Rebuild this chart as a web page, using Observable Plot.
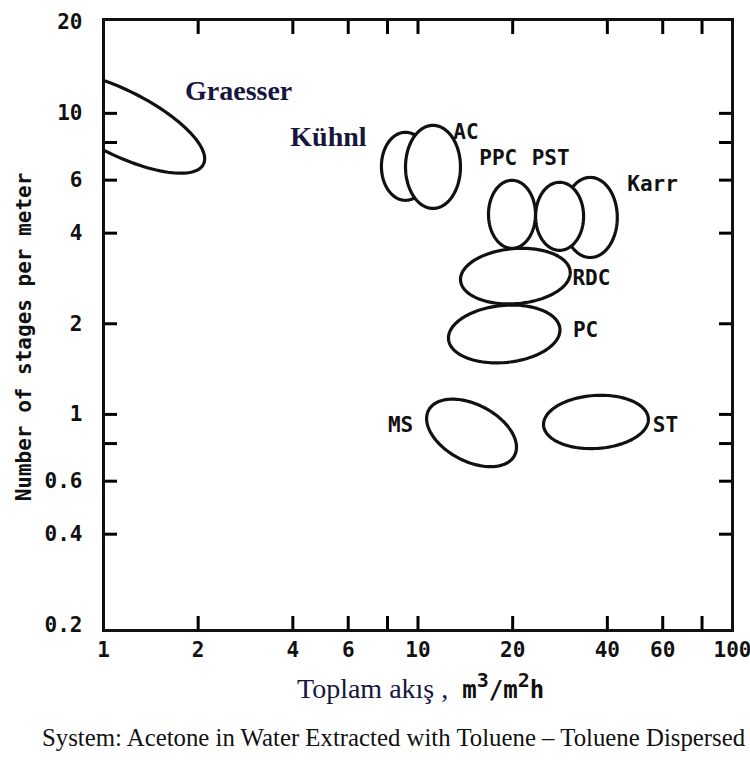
<!DOCTYPE html>
<html><head><meta charset="utf-8">
<script src="https://cdn.jsdelivr.net/npm/d3@7"></script>
<script src="https://cdn.jsdelivr.net/npm/@observablehq/plot@0.6"></script>
<style>
body{margin:0;background:#fff;}
#chart svg{display:block;}
#caption{margin-top:14px;padding-left:42px;font-family:"Liberation Serif","Times New Roman",serif;font-size:24.8px;line-height:28px;color:#111;white-space:nowrap;}
</style></head><body>
<div id="chart"></div>
<div id="caption"></div>
<script>
// ---- axis ticks ----
const xTicks = [2, 4, 6, 8, 10, 20, 40, 60, 80];
const xTickLabels = [1, 2, 4, 6, 10, 20, 40, 60, 100];
const yTicks = [0.4, 0.6, 0.8, 1, 2, 4, 6, 8, 10];
const yTickLabels = [0.2, 0.4, 0.6, 1, 2, 4, 6, 10, 20];

// ---- operating regions (ellipses in log-log space) ----
const names = ["Graesser", "Kühnl", "AC", "Karr", "PST", "PPC", "RDC", "PC", "MS", "ST"];
const centerFlow = [1.13, 9.12, 11.16, 35.3, 28.2, 19.9, 20.4, 18.8, 14.8, 36.8];
const centerStages = [9.33, 6.67, 6.64, 4.51, 4.55, 4.62, 2.88, 1.85, 0.868, 0.944];
const semiAxisA = [0.299, 0.0763, 0.0874, 0.0859, 0.0763, 0.0747, 0.175, 0.178, 0.156, 0.167]; // decades
const semiAxisB = [0.106, 0.113, 0.138, 0.133, 0.113, 0.113, 0.0914, 0.0947, 0.093, 0.088];   // decades
const tiltDeg = [28, 0, 0, 0, 0, 0, -5, -6, 30, -4];

// ---- labels ----
const labelNames = ["AC", "PPC", "PST", "Karr", "RDC", "PC", "MS", "ST"];
const labelFlow = [14.2, 18.0, 26.4, 55.7, 35.6, 34.1, 8.8, 61.2];
const labelStages = [8.65, 7.09, 7.09, 5.81, 2.83, 1.90, 0.919, 0.919];
const authorNames = ["Graesser", "Kühnl"];
const authorFlow = [2.69, 5.19];
const authorStages = [11.9, 8.32];

const yTitle = "Number of stages per meter";
const xTitle = "Toplam akış ,";
const captionText = "System: Acetone in Water Extracted with Toluene – Toluene Dispersed";

// outline points of each ellipse
const pts = [];
names.forEach((name, i) => {
  const lx = Math.log10(centerFlow[i]), ly = Math.log10(centerStages[i]);
  const a = semiAxisA[i], b = semiAxisB[i], th = tiltDeg[i] * Math.PI / 180;
  const n = 120;
  for (let k = 0; k <= n; k++) {
    const t = 2 * Math.PI * k / n;
    const u = a * Math.cos(t), v = b * Math.sin(t);
    const dx = u * Math.cos(th) - v * Math.sin(th);
    const dy = -(u * Math.sin(th) + v * Math.cos(th));
    pts.push({name, flow: Math.pow(10, lx + dx), stages: Math.pow(10, ly + dy)});
  }
});

const mono = "'DejaVu Sans Mono', 'Liberation Mono', monospace";
const serif = "'Liberation Serif', 'Times New Roman', serif";

const chart = Plot.plot({
  width: 750,
  height: 710,
  marginLeft: 103,
  marginRight: 18,
  marginTop: 19,
  marginBottom: 80,
  style: {background: "white", overflow: "visible"},
  x: {type: "log", domain: [1, 100]},
  y: {type: "log", domain: [0.1915, 20.5]},
  marks: [
    Plot.line(pts, {x: "flow", y: "stages", z: "name", stroke: "#111", strokeWidth: 3.2, fill: "white", clip: true}),
    Plot.axisX({anchor: "bottom", ticks: xTicks, tickSize: -14, fill: "none", strokeWidth: 3, label: null}),
    Plot.axisX({anchor: "top", ticks: xTicks, tickSize: -14, fill: "none", strokeWidth: 3, label: null}),
    Plot.axisY({anchor: "left", ticks: yTicks, tickSize: -14, fill: "none", strokeWidth: 3, label: null}),
    Plot.axisY({anchor: "right", ticks: yTicks, tickSize: -14, fill: "none", strokeWidth: 3, label: null}),
    Plot.text(xTickLabels, {x: d => d, text: d => String(d), frameAnchor: "bottom", lineAnchor: "top", dy: 12,
      fontFamily: mono, fontWeight: "bold", fontSize: 21, fill: "#111"}),
    Plot.text(yTickLabels, {y: d => d, text: d => String(d), frameAnchor: "left", textAnchor: "end", dx: -21,
      fontFamily: mono, fontWeight: "bold", fontSize: 21, fill: "#111"}),
    Plot.frame({stroke: "#111", strokeWidth: 3}),
    Plot.text(labelNames, {x: labelFlow, y: labelStages, text: d => d, fontFamily: mono, fontWeight: "bold", fontSize: 21, fill: "#111"}),
    Plot.text(authorNames, {x: authorFlow, y: authorStages, text: d => d, fontFamily: serif, fontWeight: "bold", fontSize: 28, fill: "#16163f"})
  ]
});
document.getElementById("chart").appendChild(chart);

const svg = d3.select(chart);
// y axis title
svg.append("text")
  .attr("transform", "translate(31,337) rotate(-90)")
  .attr("text-anchor", "middle")
  .attr("font-family", mono).attr("font-weight", "bold").attr("font-size", 21)
  .attr("fill", "#111")
  .text(yTitle);
// x axis title with units
const xt = svg.append("text").attr("x", 297).attr("y", 698).attr("text-anchor", "start");
xt.append("tspan").attr("font-family", serif).attr("font-size", 28).attr("fill", "#16163f").text(xTitle);
const unit = (s, size, dx, dy) => xt.append("tspan").attr("font-family", mono).attr("font-weight", "bold")
  .attr("font-size", size).attr("fill", "#111").attr("dx", dx).attr("dy", dy).text(s);
unit("m", 24, 14, 0);
unit("3", 20, 0, -11);
unit("/", 24, 0, 11);
unit("m", 24, 0, 0);
unit("2", 20, 0, -11);
unit("h", 24, 0, 11);

document.getElementById("caption").textContent = captionText;
</script>
</body></html>
